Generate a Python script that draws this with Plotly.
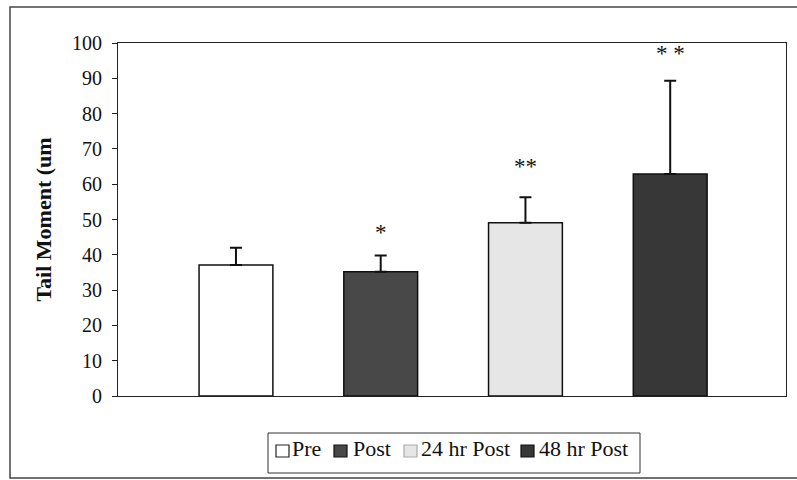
import plotly.graph_objects as go

categories = ["Pre", "Post", "24 hr Post", "48 hr Post"]
means = [37.1, 35.2, 49.1, 62.9]
errors_up = [4.9, 4.6, 7.2, 26.4]
colors = ["#ffffff", "#484848", "#e6e6e6", "#373737"]
stars = ["", "*", "**", "* *"]
star_y = [0, 46.4, 65.1, 97.1]
y_ticks = [0, 10, 20, 30, 40, 50, 60, 70, 80, 90, 100]

SERIF = "Liberation Serif, Times New Roman, serif"

# plot-area geometry (pixels) for paper conversions of decorations
L, R, T, B = 118, 786, 43, 396
W, H = R - L, B - T


def px(x):
    return (x - L) / W


def py(y):
    return (B - y) / H


fig = go.Figure()
for i, (name, m, e, c) in enumerate(zip(categories, means, errors_up, colors)):
    fig.add_trace(go.Bar(
        x=[i], y=[m], name=name, width=0.51, showlegend=False,
        marker=dict(color=c, line=dict(color="#111111", width=1.5)),
        error_y=dict(type="data", array=[e], arrayminus=[0], symmetric=False,
                     color="#111111", thickness=2, width=6),
    ))

for i, (s, sy) in enumerate(zip(stars, star_y)):
    if s:
        fig.add_annotation(x=i, y=sy, text=s, showarrow=False,
                           font=dict(family=SERIF, size=23, color="#111111"))

# outer frame
fig.add_shape(type="rect", xref="paper", yref="paper",
              x0=px(10), x1=px(810), y0=py(478), y1=py(7),
              line=dict(color="#444444", width=1.5), fillcolor="rgba(0,0,0,0)")

# legend box (drawn manually to match the compact original layout)
fig.add_shape(type="rect", xref="paper", yref="paper",
              x0=px(268), x1=px(640), y0=py(473), y1=py(433),
              line=dict(color="#333333", width=1), fillcolor="white")
legend_sym_x = [276, 334, 404, 521]
legend_txt_x = [290, 351, 419, 537]
edge_colors = ["#222222", "#111111", "#aaaaaa", "#111111"]
for name, c, ec, sx, tx in zip(categories, colors, edge_colors, legend_sym_x, legend_txt_x):
    fig.add_shape(type="rect", xref="paper", yref="paper",
                  x0=px(sx), x1=px(sx + 13), y0=py(457), y1=py(445),
                  line=dict(color=ec, width=1.2), fillcolor=c)
    fig.add_annotation(xref="paper", yref="paper", x=px(tx), y=py(448),
                       xanchor="left", yanchor="middle", text=name,
                       showarrow=False,
                       font=dict(family=SERIF, size=22, color="#111111"))

fig.update_layout(
    width=797, height=480,
    margin=dict(l=L, r=797 - R, t=T, b=480 - B, autoexpand=False),
    paper_bgcolor="white", plot_bgcolor="white",
    barmode="overlay",
    showlegend=False,
    xaxis=dict(range=[-0.815, 3.80], showticklabels=False, ticks="",
               showgrid=False, zeroline=False, showline=True,
               linecolor="#222222", linewidth=1.2, mirror=True),
    yaxis=dict(range=[0, 100], tickvals=y_ticks, ticks="outside", ticklen=5,
               tickcolor="#222222", showgrid=False, zeroline=False,
               showline=True, linecolor="#222222", linewidth=1.2, mirror=True,
               tickfont=dict(family=SERIF, size=20, color="#111111"),
               ticklabelstandoff=6,
               title=dict(text="<b>Tail Moment (um</b>", standoff=14,
                          font=dict(family=SERIF, size=22, color="#111111"))),
)

fig.write_html("out.html")
